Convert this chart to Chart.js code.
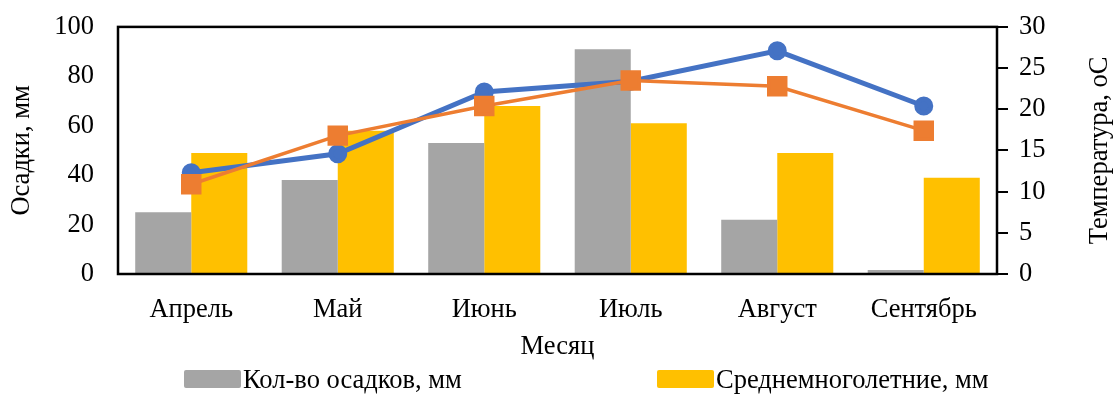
<!DOCTYPE html>
<html lang="ru">
<head>
    <meta charset="UTF-8">
    <title>Осадки и температура</title>
    <script src="https://cdn.jsdelivr.net/npm/chart.js"></script>
    <style>
        body { margin: 0; background: #fff; }
        #wrap { position: relative; width: 1120px; height: 394px; }
        #legend { position: absolute; top: 366px; left: 0; width: 1120px; height: 28px;
                  font-family: "Liberation Serif", "Times New Roman", serif; font-size: 26.5px; color: #000; }
        .item { position: absolute; top: 0; display: flex; align-items: center; height: 26px; }
        .box { width: 57px; height: 18px; border-radius: 2px; margin-right: 2px; }
    </style>
</head>
<body>
<div id="wrap">
    <canvas id="myChart" width="1120" height="394"></canvas>
    <div id="legend"></div>
</div>
<script>
    const months = ['Апрель', 'Май', 'Июнь', 'Июль', 'Август', 'Сентябрь'];
    const osadki = [25, 38, 53, 91, 22, 1.6];
    const osadkiNorma = [49, 58, 68, 61, 49, 39];
    const temp = [12.3, 14.6, 22.1, 23.4, 27.1, 20.4];
    const tempNorma = [10.9, 16.8, 20.4, 23.5, 22.8, 17.4];

    const FONT = '"Liberation Serif", "Times New Roman", serif';
    const FS = 26.5;

    // рамка вокруг области графика + подпись правой оси (снизу вверх, как в Excel)
    const frame = {
        id: 'frame',
        afterDatasetsDraw(chart) {
            const a = chart.chartArea;
            const ctx = chart.ctx;
            ctx.save();
            ctx.strokeStyle = '#000';
            ctx.lineWidth = 2.5;
            ctx.strokeRect(a.left, a.top, a.right - a.left, a.bottom - a.top);
            ctx.restore();
        },
        afterDraw(chart) {
            const s = chart.scales.y1;
            const ctx = chart.ctx;
            ctx.save();
            ctx.translate(1100, (s.top + s.bottom) / 2);
            ctx.rotate(-Math.PI / 2);
            ctx.font = FS + 'px ' + FONT;
            ctx.fillStyle = '#000';
            ctx.textAlign = 'center';
            ctx.textBaseline = 'middle';
            ctx.fillText('Температура, оС', 0, 0);
            ctx.restore();
        }
    };

    const ctx = document.getElementById('myChart').getContext('2d');
    const myChart = new Chart(ctx, {
        type: 'bar',
        data: {
            labels: months,
            datasets: [
                {
                    label: 'Кол-во осадков, мм',
                    data: osadki,
                    backgroundColor: '#A5A5A5',
                    yAxisID: 'y',
                    order: 2
                },
                {
                    label: 'Среднемноголетние, мм',
                    data: osadkiNorma,
                    backgroundColor: '#FFC000',
                    yAxisID: 'y',
                    order: 3
                },
                {
                    type: 'line',
                    label: 'Температура, оС',
                    data: temp,
                    borderColor: '#4472C4',
                    backgroundColor: '#4472C4',
                    borderWidth: 5,
                    pointStyle: 'circle',
                    pointRadius: 7,
                    pointHoverRadius: 7,
                    tension: 0,
                    yAxisID: 'y1',
                    order: 1
                },
                {
                    type: 'line',
                    label: 'Среднемноголетняя температура, оС',
                    data: tempNorma,
                    borderColor: '#ED7D31',
                    backgroundColor: '#ED7D31',
                    borderWidth: 3.5,
                    pointStyle: 'rect',
                    pointRadius: 12,
                    pointHoverRadius: 12,
                    tension: 0,
                    yAxisID: 'y1',
                    order: 0
                }
            ]
        },
        options: {
            responsive: false,
            animation: false,
            layout: { padding: { top: 0, left: 0, right: 0, bottom: 0 } },
            datasets: { bar: { categoryPercentage: 0.765, barPercentage: 1.0 } },
            plugins: {
                legend: { display: false },
                tooltip: { enabled: false }
            },
            scales: {
                x: {
                    grid: { display: false },
                    border: { display: false },
                    ticks: { color: '#000', font: { family: FONT, size: FS }, padding: 12 },
                    title: { display: true, text: 'Месяц', color: '#000',
                             font: { family: FONT, size: FS }, padding: { top: 0, bottom: 31 } },
                    afterFit(scale) { scale.height = 120; }
                },
                y: {
                    position: 'left',
                    min: 0, max: 100,
                    grid: { display: true, drawOnChartArea: false, drawTicks: true,
                            tickLength: 22, tickColor: 'rgba(0,0,0,0)', color: 'rgba(0,0,0,0)' },
                    border: { display: false },
                    ticks: { stepSize: 20, color: '#000', font: { family: FONT, size: FS }, padding: 2 },
                    title: { display: true, text: 'Осадки, мм', color: '#000',
                             font: { family: FONT, size: FS }, padding: { top: 6, bottom: 0 } },
                    afterFit(scale) { scale.width = 118; }
                },
                y1: {
                    position: 'right',
                    min: 0, max: 30,
                    grid: { display: true, drawOnChartArea: false, drawTicks: true,
                            tickLength: 11, color: '#000', lineWidth: 2 },
                    border: { display: false },
                    ticks: { stepSize: 5, color: '#000', font: { family: FONT, size: FS }, padding: 11 },
                    afterFit(scale) { scale.width = 123; }
                }
            }
        },
        plugins: [frame]
    });

    // легенда только для столбцов, как на рисунке
    const legendLeft = [184, 657];
    const legendEl = document.getElementById('legend');
    myChart.data.datasets.filter(d => d.type !== 'line').forEach((d, i) => {
        const item = document.createElement('div');
        item.className = 'item';
        item.style.left = legendLeft[i] + 'px';
        const box = document.createElement('span');
        box.className = 'box';
        box.style.background = d.backgroundColor;
        const txt = document.createElement('span');
        txt.textContent = d.label;
        item.appendChild(box);
        item.appendChild(txt);
        legendEl.appendChild(item);
    });
</script>
</body>
</html>
